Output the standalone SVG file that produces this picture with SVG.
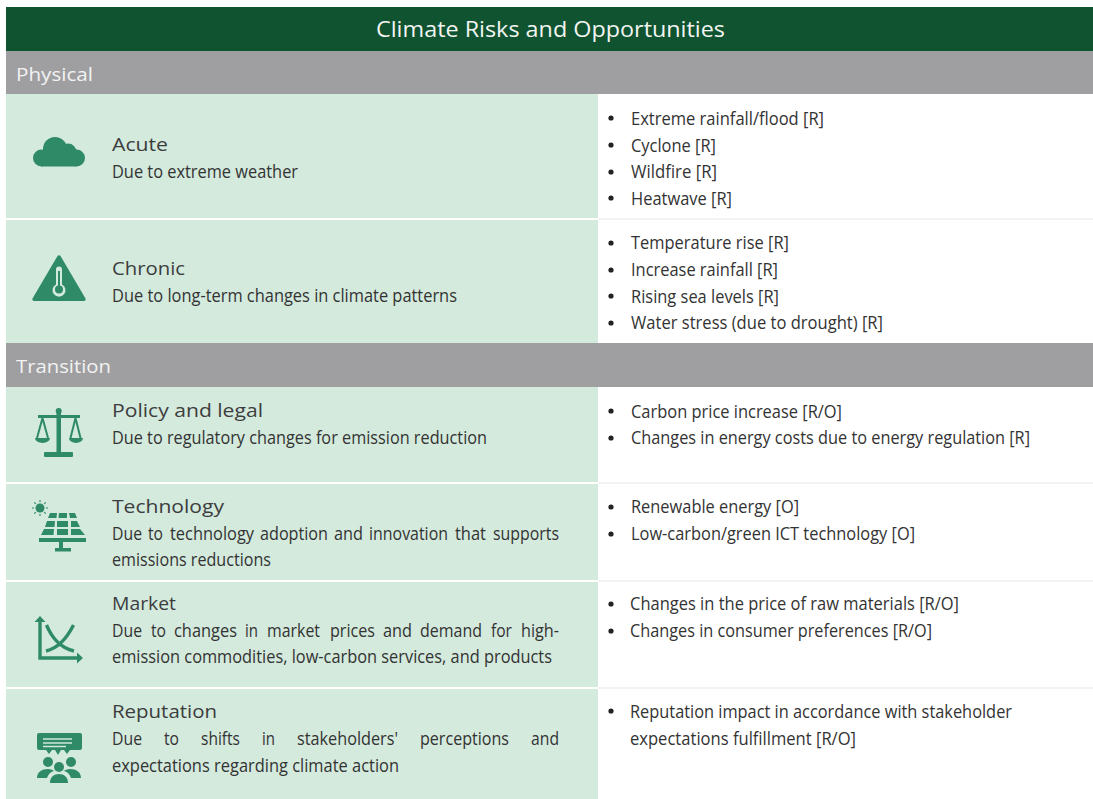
<svg xmlns="http://www.w3.org/2000/svg" width="1093" height="799" viewBox="0 0 1093 799">
<style>
text{font-family:"Open Sans","Noto Sans","Liberation Sans",sans-serif;}
.h{fill:#3d3d3d;font-size:18.500px}
.b{fill:#333;font-size:17.500px}
.s{fill:#f2f2f2;font-size:18.500px}
.d{fill:#222}
.c{fill:#d3eadd}
.g{fill:#9f9fa1}
.i{fill:#2f8a68}
.il{fill:none;stroke:#2f8a68;stroke-width:3.400}
.sep{fill:#f2f2f2}
</style>
<rect width="1093" height="799" fill="#fff"/>
<g id="header"><rect x="6" y="7" width="1087" height="44" fill="#0f5330"/>
<text x="376" y="37" fill="#f2f5f2" font-size="21" textLength="349" lengthAdjust="spacingAndGlyphs">Climate Risks and Opportunities</text></g>
<g id="physical"><rect class="g" x="6" y="51" width="1087" height="43"/><text class="s" x="16" y="81" textLength="77" lengthAdjust="spacingAndGlyphs">Physical</text></g>
<g id="acute"><rect class="c" x="6" y="94" width="592" height="124"/>
<g class="i"><circle cx="55" cy="149" r="12"/><circle cx="68" cy="152" r="8.500"/><circle cx="41.500" cy="158" r="8.500"/><circle cx="76.500" cy="158" r="8.500"/><rect x="41.500" y="150" width="35" height="16.500"/></g>
<text class="h" x="112" y="151" textLength="56" lengthAdjust="spacingAndGlyphs">Acute</text><text class="b" x="112" y="178" textLength="186" lengthAdjust="spacingAndGlyphs">Due to extreme weather</text>
<rect class="sep" x="598" y="218" width="495" height="2"/>
<g class="d"><circle cx="611" cy="118" r="2.600"/><circle cx="611" cy="145" r="2.600"/><circle cx="611" cy="172" r="2.600"/><circle cx="611" cy="198" r="2.600"/></g>
<text class="b" x="631" y="125" textLength="193" lengthAdjust="spacingAndGlyphs">Extreme rainfall/flood [R]</text><text class="b" x="631" y="152" textLength="85" lengthAdjust="spacingAndGlyphs">Cyclone [R]</text><text class="b" x="631" y="178" textLength="86" lengthAdjust="spacingAndGlyphs">Wildfire [R]</text><text class="b" x="631" y="205" textLength="101" lengthAdjust="spacingAndGlyphs">Heatwave [R]</text></g>
<g id="chronic"><rect class="c" x="6" y="220" width="592" height="123"/>
<path class="i" d="M57.500 256a1.800 1.800 0 0 1 3 0l25 42.500a1.800 1.800 0 0 1-1.500 2.500H34a1.800 1.800 0 0 1-1.500-2.500z"/><path d="M56 269.500a3 3 0 0 1 6 0v15a6.500 6.500 0 1 1-6 0z" fill="#d3eadd"/><circle class="i" cx="59" cy="289.500" r="4"/><rect class="i" x="58" y="271" width="2" height="17"/>
<text class="h" x="112" y="275" textLength="73" lengthAdjust="spacingAndGlyphs">Chronic</text><text class="b" x="112" y="302" textLength="345" lengthAdjust="spacingAndGlyphs">Due to long-term changes in climate patterns</text>
<g class="d"><circle cx="611" cy="243" r="2.600"/><circle cx="611" cy="270" r="2.600"/><circle cx="611" cy="296" r="2.600"/><circle cx="611" cy="323" r="2.600"/></g>
<text class="b" x="631" y="249" textLength="158" lengthAdjust="spacingAndGlyphs">Temperature rise [R]</text><text class="b" x="631" y="276" textLength="147" lengthAdjust="spacingAndGlyphs">Increase rainfall [R]</text><text class="b" x="631" y="303" textLength="148" lengthAdjust="spacingAndGlyphs">Rising sea levels [R]</text><text class="b" x="631" y="329" textLength="252" lengthAdjust="spacingAndGlyphs">Water stress (due to drought) [R]</text></g>
<g id="transition"><rect class="g" x="6" y="343" width="1087" height="44"/><text class="s" x="16" y="373" textLength="95" lengthAdjust="spacingAndGlyphs">Transition</text></g>
<g id="policy"><rect class="c" x="6" y="387" width="592" height="95"/>
<g class="i"><rect x="56.500" y="411" width="4.500" height="42"/><circle cx="58.700" cy="411" r="3"/><rect x="38" y="415" width="42" height="3"/><rect x="44" y="452" width="29" height="5" rx="1"/><path d="M35 438h15a7.500 5 0 0 1-15 0zM69 438h14a7 5 0 0 1-14 0z"/></g>
<path class="il" style="stroke-width:2" d="M42.500 418l-5.500 20M42.500 418l5.500 20M75.500 418l-5 20M75.500 418l5 20"/>
<text class="h" x="112" y="417" textLength="151" lengthAdjust="spacingAndGlyphs">Policy and legal</text><text class="b" x="112" y="444" textLength="375" lengthAdjust="spacingAndGlyphs">Due to regulatory changes for emission reduction</text>
<rect class="sep" x="598" y="482" width="495" height="2"/>
<g class="d"><circle cx="611" cy="411" r="2.600"/><circle cx="611" cy="438" r="2.600"/></g>
<text class="b" x="631" y="418" textLength="211" lengthAdjust="spacingAndGlyphs">Carbon price increase [R/O]</text><text class="b" x="631" y="444" textLength="399" lengthAdjust="spacingAndGlyphs">Changes in energy costs due to energy regulation [R]</text></g>
<g id="technology"><rect class="c" x="6" y="484" width="592" height="96"/>
<circle class="i" cx="40" cy="508" r="4.500"/><path class="il" style="stroke-width:1.200" d="M40 500v2M40 514v2M32 508h2M46 508h2M34.300 502.300l1.500 1.500M44.200 512.200l1.500 1.500M45.700 502.300l-1.500 1.500M35.800 512.200l-1.500 1.500"/>
<path class="i" d="M50 513h7l-.5 5H48zM59 513h8v5h-8.500zM69 513h6l2 5h-7zM47 521h8l-.5 6H45zM57 521h11v6H57zM71 521h6l3 6H71zM44 529h10l-.5 6H41zM57 529h11v6H57zM71 529h9l5 6H71zM39 538h47v4H39zM59 542h4v6h-4zM55 548h16v3.500H55z"/>
<text class="h" x="112" y="513" textLength="112" lengthAdjust="spacingAndGlyphs">Technology</text>
<g class="b"><text x="112" y="540" textLength="30" lengthAdjust="spacingAndGlyphs">Due</text><text x="148" y="540" textLength="15" lengthAdjust="spacingAndGlyphs">to</text><text x="170" y="540" textLength="84" lengthAdjust="spacingAndGlyphs">technology</text><text x="260" y="540" textLength="68" lengthAdjust="spacingAndGlyphs">adoption</text><text x="334" y="540" textLength="29" lengthAdjust="spacingAndGlyphs">and</text><text x="369" y="540" textLength="79" lengthAdjust="spacingAndGlyphs">innovation</text><text x="455" y="540" textLength="31" lengthAdjust="spacingAndGlyphs">that</text><text x="493" y="540" textLength="66" lengthAdjust="spacingAndGlyphs">supports</text></g>
<text class="b" x="112" y="566" textLength="159" lengthAdjust="spacingAndGlyphs">emissions reductions</text>
<rect class="sep" x="598" y="580" width="495" height="2"/>
<g class="d"><circle cx="611" cy="507" r="2.600"/><circle cx="611" cy="534" r="2.600"/></g>
<text class="b" x="631" y="513" textLength="168" lengthAdjust="spacingAndGlyphs">Renewable energy [O]</text><text class="b" x="631" y="540" textLength="284" lengthAdjust="spacingAndGlyphs">Low-carbon/green ICT technology [O]</text></g>
<g id="market"><rect class="c" x="6" y="582" width="592" height="105"/>
<path class="il" d="M40 619V658H80"/><path class="i" d="M40 616l5.500 6h-11zM83 658l-6 5.500v-11z"/><path class="il" d="M46.500 625C51 636 60 648 74 651M73.500 625C68 636 59 648 46 651"/>
<text class="h" x="112" y="610" textLength="64" lengthAdjust="spacingAndGlyphs">Market</text>
<g class="b"><text x="112" y="637" textLength="30" lengthAdjust="spacingAndGlyphs">Due</text><text x="151" y="637" textLength="15" lengthAdjust="spacingAndGlyphs">to</text><text x="174" y="637" textLength="63" lengthAdjust="spacingAndGlyphs">changes</text><text x="245" y="637" textLength="13" lengthAdjust="spacingAndGlyphs">in</text><text x="267" y="637" textLength="53" lengthAdjust="spacingAndGlyphs">market</text><text x="330" y="637" textLength="45" lengthAdjust="spacingAndGlyphs">prices</text><text x="383" y="637" textLength="29" lengthAdjust="spacingAndGlyphs">and</text><text x="420" y="637" textLength="62" lengthAdjust="spacingAndGlyphs">demand</text><text x="491" y="637" textLength="21" lengthAdjust="spacingAndGlyphs">for</text><text x="521" y="637" textLength="38" lengthAdjust="spacingAndGlyphs">high-</text></g>
<text class="b" x="112" y="663" textLength="440" lengthAdjust="spacingAndGlyphs">emission commodities, low-carbon services, and products</text>
<rect class="sep" x="598" y="687" width="495" height="2"/>
<g class="d"><circle cx="611" cy="604" r="2.600"/><circle cx="611" cy="631" r="2.600"/></g>
<text class="b" x="630" y="610" textLength="329" lengthAdjust="spacingAndGlyphs">Changes in the price of raw materials [R/O]</text><text class="b" x="630" y="637" textLength="302" lengthAdjust="spacingAndGlyphs">Changes in consumer preferences [R/O]</text></g>
<g id="reputation"><rect class="c" x="6" y="689" width="592" height="110"/>
<path class="i" d="M39 733h41a2 2 0 0 1 2 2v13a2 2 0 0 1-2 2H70l-3 4-3-4H61l-3 5-3-5H52l-3 4-3-4H39a2 2 0 0 1-2-2V735a2 2 0 0 1 2-2z"/><path d="M43 739h29M43 743h29M43 746.500h23" stroke="#cfe6da" stroke-width="1.300" fill="none"/>
<g class="i"><circle cx="48" cy="762" r="5"/><circle cx="71" cy="762" r="5"/><circle cx="59" cy="767" r="5"/><path d="M37 778c0-6 5-9 11-9 3 0 5 1 6 2-4 1-6 4-7 7zM81 778c0-6-5-9-11-9-3 0-5 1-6 2 4 1 6 4 7 7zM50 783c0-6 4-9 9-9s9 3 9 9z"/></g>
<text class="h" x="112" y="718" textLength="105" lengthAdjust="spacingAndGlyphs">Reputation</text>
<g class="b"><text x="112" y="745" textLength="30" lengthAdjust="spacingAndGlyphs">Due</text><text x="164" y="745" textLength="15" lengthAdjust="spacingAndGlyphs">to</text><text x="201" y="745" textLength="39" lengthAdjust="spacingAndGlyphs">shifts</text><text x="262" y="745" textLength="13" lengthAdjust="spacingAndGlyphs">in</text><text x="297" y="745" textLength="101" lengthAdjust="spacingAndGlyphs">stakeholders'</text><text x="420" y="745" textLength="89" lengthAdjust="spacingAndGlyphs">perceptions</text><text x="531" y="745" textLength="28" lengthAdjust="spacingAndGlyphs">and</text></g>
<text class="b" x="112" y="772" textLength="287" lengthAdjust="spacingAndGlyphs">expectations regarding climate action</text>
<circle class="d" cx="611" cy="711" r="2.600"/>
<text class="b" x="630" y="718" textLength="382" lengthAdjust="spacingAndGlyphs">Reputation impact in accordance with stakeholder</text><text class="b" x="630" y="745" textLength="226" lengthAdjust="spacingAndGlyphs">expectations fulfillment [R/O]</text></g>
</svg>
